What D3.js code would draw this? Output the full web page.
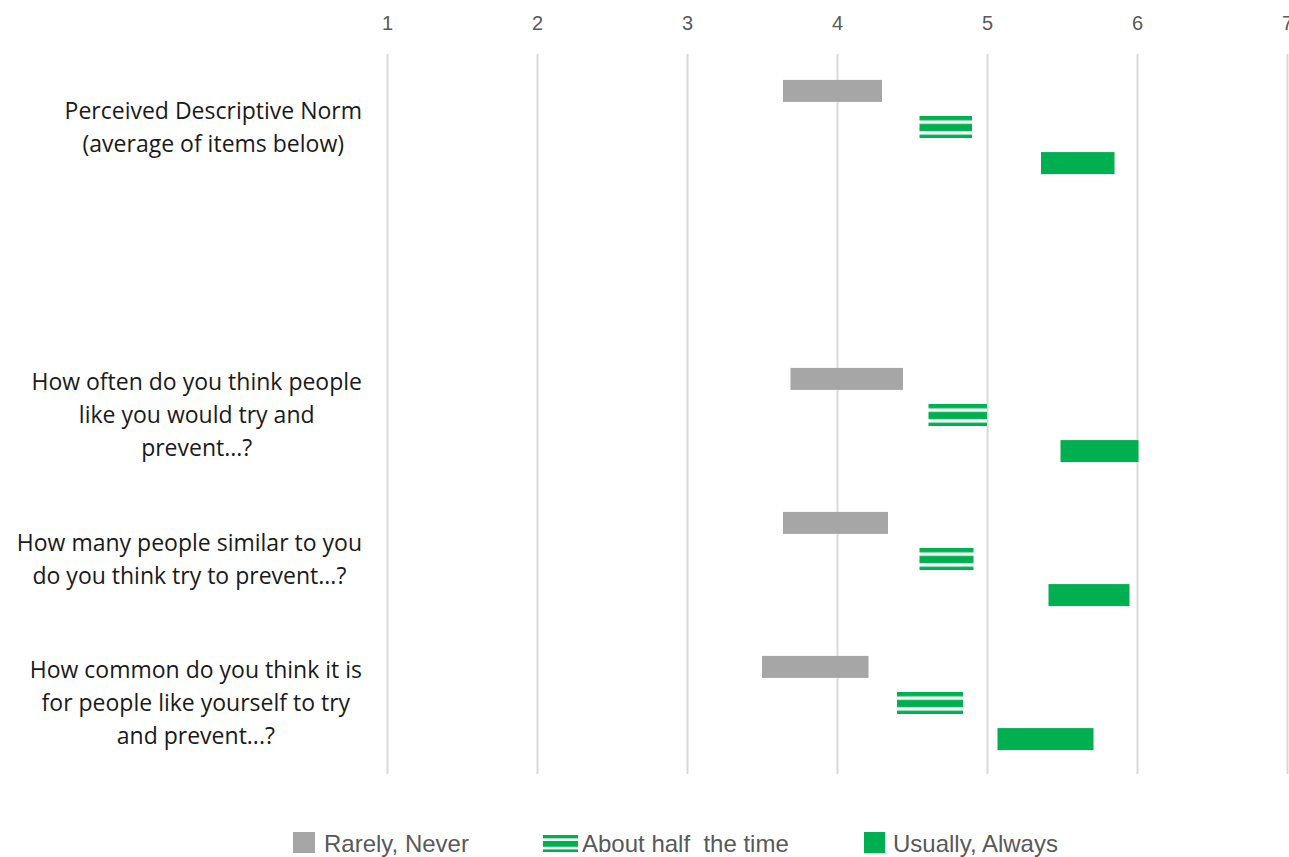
<!DOCTYPE html>
<html>
<head>
<meta charset="utf-8">
<script src="https://cdn.jsdelivr.net/npm/d3@7"></script>
<style>
  html, body { margin: 0; padding: 0; background: #ffffff; }
  svg { display: block; }
</style>
</head>
<body>
<svg id="chart" width="1289" height="857"></svg>
<script>
// Survey items (one empty slot separates the summary row from the items)
const categories = [
  "Perceived Descriptive Norm\n(average of items below)",
  "",
  "How often do you think people\nlike you would try and\nprevent...?",
  "How many people similar to you\ndo you think try to prevent...?",
  "How common do you think it is\nfor people like yourself to try\nand prevent...?"
];

const seriesNames = ["Rarely, Never", "About half  the time", "Usually, Always"];

// Range of each group's ratings: [low, high] per category (null = empty slot)
const rarelyNever = [[3.64, 4.30], null, [3.69, 4.44], [3.64, 4.34], [3.50, 4.21]];
const aboutHalf   = [[4.55, 4.90], null, [4.61, 5.00], [4.55, 4.91], [4.40, 4.84]];
const usuallyAlways = [[5.36, 5.85], null, [5.49, 6.01], [5.41, 5.95], [5.07, 5.71]];

const xTicks = [1, 2, 3, 4, 5, 6, 7];

const svg = d3.select("#chart");
const plot = { left: 387, right: 1287, top: 55, bottom: 774 };

const x = d3.scaleLinear().domain([1, 7]).range([plot.left, plot.right]);
const y = d3.scaleBand().domain(d3.range(categories.length)).range([plot.top, plot.bottom + 1]).padding(0);
const ySub = d3.scaleBand().domain(seriesNames).range([0, y.bandwidth()])
  .paddingInner(0.39).paddingOuter(0.69);

const GREEN = "#00b050";
const GREY = "#a6a6a6";

// Horizontal triple-stripe fill used for the middle group
const defs = svg.append("defs");
const pat = defs.append("pattern")
  .attr("id", "stripes")
  .attr("patternUnits", "objectBoundingBox")
  .attr("patternContentUnits", "objectBoundingBox")
  .attr("width", 1).attr("height", 1);
pat.append("rect").attr("x", 0).attr("y", 0).attr("width", 1).attr("height", 1).attr("fill", "#ffffff");
[[0, 0.2], [0.354, 0.692], [0.846, 1]].forEach(([a, b]) => {
  pat.append("rect").attr("x", 0).attr("y", a).attr("width", 1).attr("height", b - a).attr("fill", GREEN);
});

// Top value axis with gridlines running through the plot
const axis = d3.axisTop(x).tickValues(xTicks).tickFormat(d3.format("d"))
  .tickSizeInner(-(plot.bottom - 54)).tickSizeOuter(0).tickPadding(24);
const gAxis = svg.append("g").attr("transform", `translate(0,54)`).call(axis);
gAxis.select(".domain").remove();
gAxis.selectAll(".tick line").attr("stroke", "#d9d9d9").attr("stroke-width", 2);
gAxis.selectAll(".tick text")
  .attr("fill", "#595959")
  .style("font-family", "'Liberation Sans', Arial, sans-serif")
  .style("font-size", "20px");

// Floating range bars
const seriesData = [
  { name: seriesNames[0], values: rarelyNever, fill: GREY },
  { name: seriesNames[1], values: aboutHalf, fill: "url(#stripes)" },
  { name: seriesNames[2], values: usuallyAlways, fill: GREEN }
];

seriesData.forEach(s => {
  svg.append("g").selectAll("rect")
    .data(s.values.map((v, i) => ({ v, i })).filter(d => d.v))
    .join("rect")
    .attr("x", d => x(d.v[0]))
    .attr("width", d => x(d.v[1]) - x(d.v[0]))
    .attr("y", d => y(d.i) + ySub(s.name))
    .attr("height", ySub.bandwidth())
    .attr("fill", s.fill);
});

// Category labels: lines centred on each other, block right-aligned to the plot
const labelRight = 362;
const lineH = 33;
categories.forEach((label, i) => {
  if (!label) return;
  const lines = label.split("\n");
  const g = svg.append("g");
  const t = g.selectAll("text").data(lines).join("text")
    .attr("y", (d, k) => y(i) + y.bandwidth() / 2 + (k - (lines.length - 1) / 2) * lineH)
    .attr("dy", "0.35em")
    .attr("text-anchor", "middle")
    .attr("fill", "#1a1a1a")
    .style("font-family", "'Open Sans', 'Noto Sans', sans-serif")
    .style("font-size", "23px")
    .text(d => d);
  let maxW = 0;
  t.each(function () { maxW = Math.max(maxW, this.getComputedTextLength()); });
  t.attr("x", labelRight - maxW / 2);
});

// Legend
const legendItems = [
  { name: seriesNames[0], fill: GREY, sx: 293, sw: 22, sy: 832, sh: 21, tx: 324 },
  { name: seriesNames[1], fill: "url(#stripes)", sx: 543, sw: 35, sy: 835, sh: 17, tx: 582 },
  { name: seriesNames[2], fill: GREEN, sx: 864, sw: 21, sy: 832, sh: 21, tx: 893 }
];
const lg = svg.append("g");
legendItems.forEach(it => {
  lg.append("rect").attr("x", it.sx).attr("y", it.sy).attr("width", it.sw).attr("height", it.sh).attr("fill", it.fill);
  lg.append("text").attr("x", it.tx).attr("y", 852)
    .attr("fill", "#595959")
    .style("font-family", "'Liberation Sans', Arial, sans-serif")
    .style("font-size", "24px")
    .style("white-space", "pre")
    .attr("xml:space", "preserve")
    .text(it.name);
});
</script>
</body>
</html>
